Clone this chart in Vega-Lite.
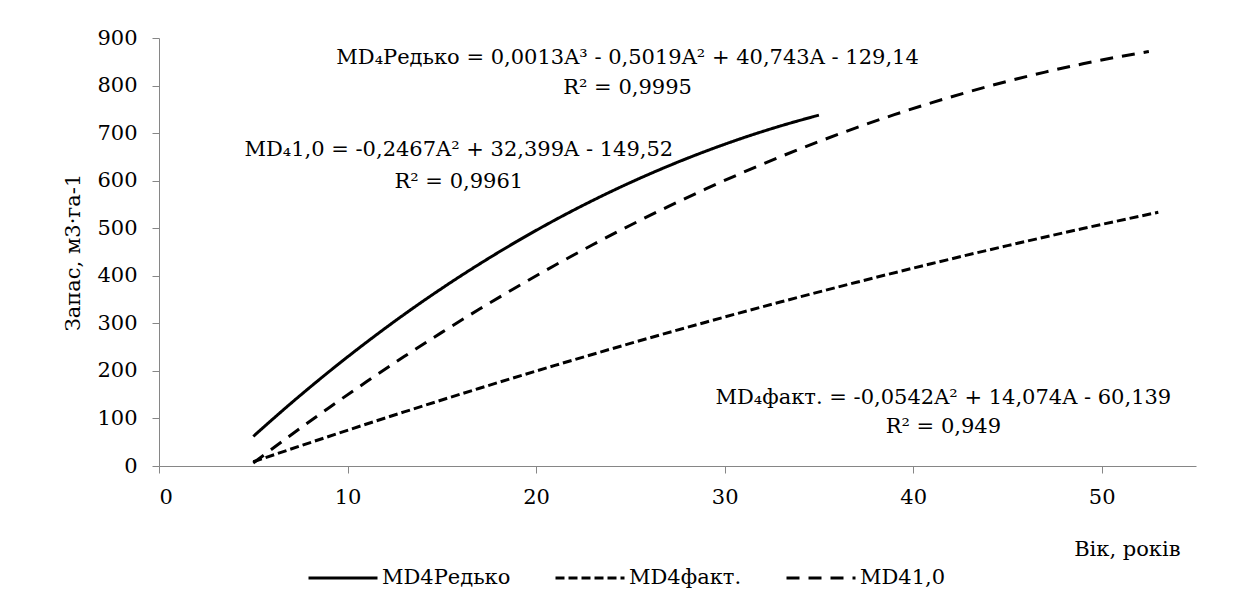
{
  "$schema": "https://vega.github.io/schema/vega-lite/v6.json",
  "width": 1037,
  "height": 428,
  "autosize": {"type": "none"},
  "padding": {"left": 159, "top": 38, "right": 40, "bottom": 139},
  "background": "white",
  "config": {
    "view": {"stroke": null},
    "font": "DejaVu Serif",
    "axis": {
      "grid": false,
      "domainColor": "#868686",
      "tickColor": "#868686",
      "domainWidth": 1,
      "tickWidth": 1,
      "tickSize": 7,
      "labelFont": "DejaVu Serif",
      "labelFontSize": 21,
      "labelColor": "black",
      "titleFont": "DejaVu Serif",
      "titleFontSize": 21,
      "titleFontWeight": "normal",
      "titleColor": "black"
    }
  },
  "data": {
    "values": [
      {"series": "MD4Редько", "A": 5, "V": 62.2},
      {"series": "MD4Редько", "A": 7, "V": 131.9},
      {"series": "MD4Редько", "A": 9, "V": 197.8},
      {"series": "MD4Редько", "A": 11, "V": 260.0},
      {"series": "MD4Редько", "A": 13, "V": 318.6},
      {"series": "MD4Редько", "A": 15, "V": 373.5},
      {"series": "MD4Редько", "A": 17, "V": 424.8},
      {"series": "MD4Редько", "A": 19, "V": 472.7},
      {"series": "MD4Редько", "A": 21, "V": 517.2},
      {"series": "MD4Редько", "A": 23, "V": 558.3},
      {"series": "MD4Редько", "A": 25, "V": 596.1},
      {"series": "MD4Редько", "A": 27, "V": 630.6},
      {"series": "MD4Редько", "A": 29, "V": 662.0},
      {"series": "MD4Редько", "A": 31, "V": 690.3},
      {"series": "MD4Редько", "A": 33, "V": 715.5},
      {"series": "MD4Редько", "A": 35, "V": 737.8},
      {"series": "MD4факт.", "A": 5, "V": 8.9},
      {"series": "MD4факт.", "A": 9, "V": 62.1},
      {"series": "MD4факт.", "A": 13, "V": 113.7},
      {"series": "MD4факт.", "A": 17, "V": 163.5},
      {"series": "MD4факт.", "A": 21, "V": 211.5},
      {"series": "MD4факт.", "A": 25, "V": 257.8},
      {"series": "MD4факт.", "A": 29, "V": 302.4},
      {"series": "MD4факт.", "A": 33, "V": 345.3},
      {"series": "MD4факт.", "A": 37, "V": 386.4},
      {"series": "MD4факт.", "A": 41, "V": 425.8},
      {"series": "MD4факт.", "A": 45, "V": 463.4},
      {"series": "MD4факт.", "A": 49, "V": 499.4},
      {"series": "MD4факт.", "A": 53, "V": 533.5},
      {"series": "MD41,0", "A": 5, "V": 6.3},
      {"series": "MD41,0", "A": 7, "V": 65.2},
      {"series": "MD41,0", "A": 9, "V": 122.1},
      {"series": "MD41,0", "A": 11, "V": 177.0},
      {"series": "MD41,0", "A": 13, "V": 230.0},
      {"series": "MD41,0", "A": 15, "V": 281.0},
      {"series": "MD41,0", "A": 17, "V": 330.0},
      {"series": "MD41,0", "A": 19, "V": 377.0},
      {"series": "MD41,0", "A": 21, "V": 422.1},
      {"series": "MD41,0", "A": 23, "V": 465.2},
      {"series": "MD41,0", "A": 25, "V": 506.3},
      {"series": "MD41,0", "A": 27, "V": 545.4},
      {"series": "MD41,0", "A": 29, "V": 582.6},
      {"series": "MD41,0", "A": 31, "V": 617.8},
      {"series": "MD41,0", "A": 33, "V": 651.0},
      {"series": "MD41,0", "A": 35, "V": 682.2},
      {"series": "MD41,0", "A": 37, "V": 711.5},
      {"series": "MD41,0", "A": 39, "V": 738.8},
      {"series": "MD41,0", "A": 41, "V": 764.1},
      {"series": "MD41,0", "A": 43, "V": 787.5},
      {"series": "MD41,0", "A": 45, "V": 808.9},
      {"series": "MD41,0", "A": 47, "V": 828.3},
      {"series": "MD41,0", "A": 49, "V": 845.7},
      {"series": "MD41,0", "A": 51, "V": 861.2},
      {"series": "MD41,0", "A": 52.5, "V": 871.5}
    ]
  },
  "layer": [
    {
      "mark": {"type": "line", "color": "black", "strokeWidth": 3, "interpolate": "monotone"},
      "encoding": {
        "x": {
          "field": "A", "type": "quantitative",
          "scale": {"domain": [0, 55], "nice": false},
          "axis": {"values": [0, 10, 20, 30, 40, 50], "labelPadding": 13, "title": "Вік, років", "titleX": 1021, "titleY": 83, "titleAlign": "right", "titleBaseline": "middle", "titleAnchor": null}
        },
        "y": {
          "field": "V", "type": "quantitative",
          "scale": {"domain": [0, 900], "nice": false},
          "axis": {"values": [0, 100, 200, 300, 400, 500, 600, 700, 800, 900], "labelPadding": 15, "title": "Запас, м3·га-1", "titleX": -86, "titleY": 214, "titleAlign": "center", "titleBaseline": "middle", "titleAngle": -90}
        },
        "strokeDash": {
          "field": "series", "type": "nominal",
          "scale": {"domain": ["MD4Редько", "MD4факт.", "MD41,0"], "range": [[1, 0], [9, 4], [13, 9]]},
          "legend": {
            "title": null,
            "orient": "none",
            "direction": "horizontal",
            "legendX": 148,
            "legendY": 504,
            "symbolType": "stroke",
            "symbolSize": 4761,
            "symbolStrokeWidth": 3,
            "symbolStrokeColor": "black",
            "labelFont": "DejaVu Serif",
            "labelFontSize": 21,
            "labelColor": "black",
            "labelOffset": 3,
            "columnPadding": 38
          }
        }
      }
    },
    {
      "data": {"values": [{}]},
      "mark": {"type": "text", "font": "DejaVu Serif", "fontSize": 21, "color": "black", "align": "center", "baseline": "middle", "text": "MD₄Редько = 0,0013A³ - 0,5019A² + 40,743A - 129,14"},
      "encoding": {"x": {"datum": 24.85}, "y": {"datum": 858}}
    },
    {
      "data": {"values": [{}]},
      "mark": {"type": "text", "font": "DejaVu Serif", "fontSize": 21, "color": "black", "align": "center", "baseline": "middle", "text": "R² = 0,9995"},
      "encoding": {"x": {"datum": 24.85}, "y": {"datum": 795}}
    },
    {
      "data": {"values": [{}]},
      "mark": {"type": "text", "font": "DejaVu Serif", "fontSize": 21, "color": "black", "align": "center", "baseline": "middle", "text": "MD₄1,0 = -0,2467A² + 32,399A - 149,52"},
      "encoding": {"x": {"datum": 15.9}, "y": {"datum": 664}}
    },
    {
      "data": {"values": [{}]},
      "mark": {"type": "text", "font": "DejaVu Serif", "fontSize": 21, "color": "black", "align": "center", "baseline": "middle", "text": "R² = 0,9961"},
      "encoding": {"x": {"datum": 15.9}, "y": {"datum": 597}}
    },
    {
      "data": {"values": [{}]},
      "mark": {"type": "text", "font": "DejaVu Serif", "fontSize": 21, "color": "black", "align": "center", "baseline": "middle", "text": "MD₄факт. = -0,0542A² + 14,074A - 60,139"},
      "encoding": {"x": {"datum": 41.6}, "y": {"datum": 144}}
    },
    {
      "data": {"values": [{}]},
      "mark": {"type": "text", "font": "DejaVu Serif", "fontSize": 21, "color": "black", "align": "center", "baseline": "middle", "text": "R² = 0,949"},
      "encoding": {"x": {"datum": 41.6}, "y": {"datum": 82}}
    }
  ]
}
